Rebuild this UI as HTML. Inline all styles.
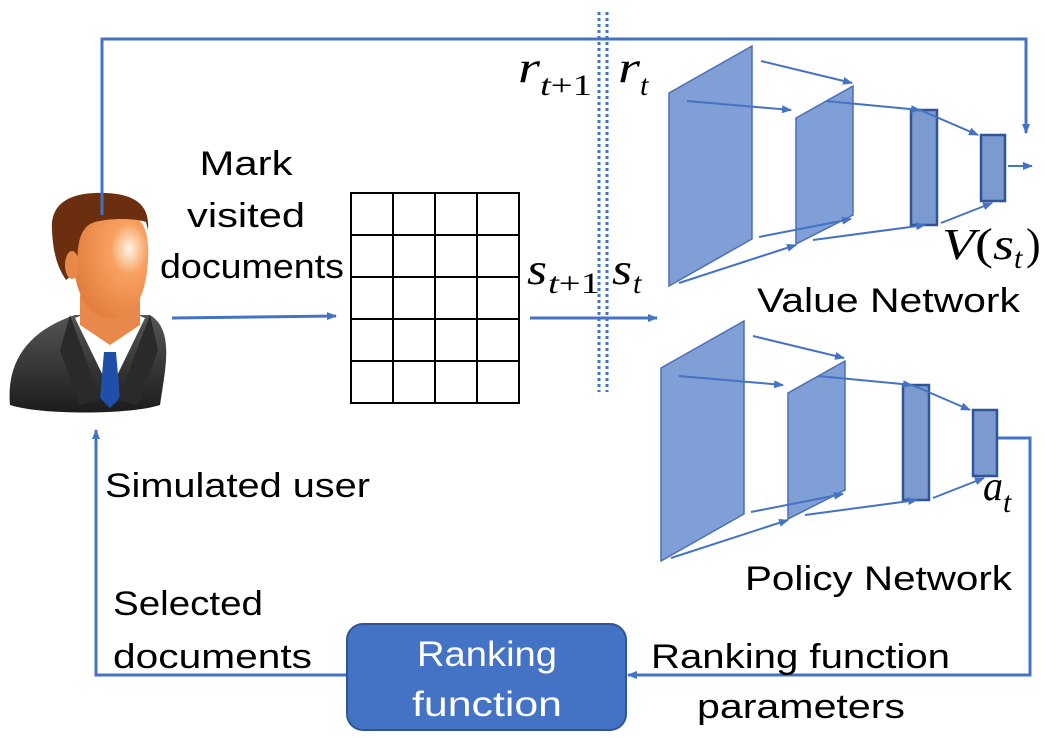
<!DOCTYPE html>
<html><head><meta charset="utf-8"><style>
html,body{margin:0;padding:0;background:#fff;}
svg{display:block;}
text{font-family:"Liberation Sans",sans-serif;fill:#000;}
.m{font-family:"Liberation Serif",serif;}
.i{font-style:italic;}
</style></head><body>
<svg width="1046" height="738" viewBox="0 0 1046 738" xmlns="http://www.w3.org/2000/svg">
<defs>
<marker id="a" markerWidth="10" markerHeight="10" refX="9" refY="5" orient="auto" markerUnits="userSpaceOnUse"><path d="M0,1 L10,5 L0,9 z" fill="#4472C4"/></marker>
<radialGradient id="face" cx="0.75" cy="0.35" r="0.8"><stop offset="0" stop-color="#fff4e8"/><stop offset="0.3" stop-color="#f8a060"/><stop offset="1" stop-color="#e07a3a"/></radialGradient>
<linearGradient id="suit" x1="0" y1="0" x2="0" y2="1"><stop offset="0" stop-color="#555"/><stop offset="1" stop-color="#1c1c1c"/></linearGradient>
</defs>

<!-- person -->
<path d="M10,405 C6,360 30,330 75,315 L150,315 C175,330 165,370 160,405 C130,415 40,415 10,405 z" fill="url(#suit)"/>
<path d="M75,318 L110,390 L145,318 L130,312 L90,312 z" fill="#fff"/>
<path d="M104,352 L116,352 L120,398 L110,408 L100,398 z" fill="#1f4fa8"/>
<path d="M70,315 L100,400 L80,405 L60,350 z" fill="#2a2a2a"/>
<path d="M150,315 L118,400 L138,405 L158,350 z" fill="#2a2a2a"/>
<path d="M80,295 L80,325 L110,345 L140,325 L140,295 z" fill="#e8884a"/>
<path d="M72,250 C70,215 95,212 115,212 C140,212 150,225 148,260 C146,300 132,318 112,318 C88,318 74,295 72,250 z" fill="url(#face)"/>
<path d="M52,230 C50,200 75,192 105,193 C135,194 150,205 148,230 L146,222 C135,218 110,218 95,222 C80,226 76,245 78,270 L66,280 C56,265 53,250 52,230 z" fill="#6b2f0f"/>
<ellipse cx="72" cy="265" rx="7" ry="14" fill="#e8884a"/>

<polyline points="102,215 102,39 1026,39 1026,133" fill="none" stroke="#4472C4" stroke-width="3" marker-end="url(#a)"/>

<line x1="599" y1="12" x2="599" y2="392" stroke="#4472C4" stroke-width="3" stroke-dasharray="3,3"/>
<line x1="607" y1="12" x2="607" y2="392" stroke="#4472C4" stroke-width="3" stroke-dasharray="3,3"/>

<line x1="172" y1="318" x2="336" y2="316" stroke="#4472C4" stroke-width="3" marker-end="url(#a)"/>
<line x1="530" y1="318" x2="657" y2="318" stroke="#4472C4" stroke-width="3" marker-end="url(#a)"/>

<g stroke="#000" stroke-width="2" fill="none">
<rect x="351" y="193" width="168" height="210"/>
<line x1="393" y1="193" x2="393" y2="403"/><line x1="435" y1="193" x2="435" y2="403"/><line x1="477" y1="193" x2="477" y2="403"/>
<line x1="351" y1="235" x2="519" y2="235"/><line x1="351" y1="277" x2="519" y2="277"/><line x1="351" y1="319" x2="519" y2="319"/><line x1="351" y1="361" x2="519" y2="361"/>
</g>

<g id="net">
<polygon points="669,93 752,46 752,239 669,286" fill="#7F9FD6" stroke="#4A6FB5" stroke-width="1.5"/>
<polygon points="796,118 853,86 853,215 796,244" fill="#7F9FD6" stroke="#4A6FB5" stroke-width="1.5"/>
<rect x="911" y="110" width="26" height="115" fill="#7A9AD0" stroke="#2F5597" stroke-width="2.5"/>
<rect x="981" y="135" width="24" height="66" fill="#7A9AD0" stroke="#2F5597" stroke-width="2.5"/>
<g stroke="#4472C4" stroke-width="2" fill="none" marker-end="url(#a)">
<line x1="761" y1="61" x2="852" y2="83"/>
<line x1="687" y1="101" x2="791" y2="110"/>
<line x1="826" y1="101" x2="920" y2="110"/>
<line x1="920" y1="110" x2="978" y2="135"/>
<line x1="759" y1="237" x2="851" y2="219"/>
<line x1="679" y1="283" x2="796" y2="245"/>
<line x1="813" y1="240" x2="925" y2="225"/>
<line x1="941" y1="223" x2="992" y2="203"/>
</g>
</g>
<line x1="1008" y1="166" x2="1032" y2="166" stroke="#4472C4" stroke-width="2" marker-end="url(#a)"/>
<use href="#net" transform="translate(-8,275)"/>

<polyline points="998,438 1030,438 1030,675 628,675" fill="none" stroke="#4472C4" stroke-width="3" marker-end="url(#a)"/>
<polyline points="346,675 96,675 96,430" fill="none" stroke="#4472C4" stroke-width="3" marker-end="url(#a)"/>

<rect x="347" y="624" width="279" height="106" rx="16" fill="#4472C4" stroke="#2F5597" stroke-width="2"/>
<text x="487" y="666" font-size="35" text-anchor="middle" style="fill:#fff" textLength="140" lengthAdjust="spacingAndGlyphs">Ranking</text>
<text x="487" y="716" font-size="35" text-anchor="middle" style="fill:#fff" textLength="150" lengthAdjust="spacingAndGlyphs">function</text>

<text x="246" y="175" font-size="34" text-anchor="middle" textLength="93" lengthAdjust="spacingAndGlyphs">Mark</text>
<text x="246" y="227" font-size="34" text-anchor="middle" textLength="118" lengthAdjust="spacingAndGlyphs">visited</text>
<text x="160" y="278" font-size="34" textLength="184" lengthAdjust="spacingAndGlyphs">documents</text>
<text x="105" y="497" font-size="34" textLength="265" lengthAdjust="spacingAndGlyphs">Simulated user</text>
<text x="113" y="615" font-size="34" textLength="150" lengthAdjust="spacingAndGlyphs">Selected</text>
<text x="113" y="668" font-size="34" textLength="199" lengthAdjust="spacingAndGlyphs">documents</text>
<text x="651" y="668" font-size="34" textLength="299" lengthAdjust="spacingAndGlyphs">Ranking function</text>
<text x="697" y="718" font-size="34" textLength="208" lengthAdjust="spacingAndGlyphs">parameters</text>
<text x="745" y="590" font-size="34" textLength="267" lengthAdjust="spacingAndGlyphs">Policy Network</text>
<text x="757" y="312" font-size="34" textLength="263" lengthAdjust="spacingAndGlyphs">Value Network</text>

<!-- math -->
<text class="m i" x="518" y="82" font-size="44" textLength="22" lengthAdjust="spacingAndGlyphs">r</text>
<text class="m" x="540" y="95" font-size="30" textLength="52" lengthAdjust="spacingAndGlyphs"><tspan class="i">t</tspan>+1</text>
<text class="m i" x="618" y="82" font-size="44" textLength="22" lengthAdjust="spacingAndGlyphs">r</text>
<text class="m i" x="640" y="95" font-size="30">t</text>

<text class="m i" x="527" y="284" font-size="44" textLength="20" lengthAdjust="spacingAndGlyphs">s</text>
<text class="m" x="548" y="293" font-size="30" textLength="52" lengthAdjust="spacingAndGlyphs"><tspan class="i">t</tspan>+1</text>
<text class="m i" x="612" y="284" font-size="44" textLength="20" lengthAdjust="spacingAndGlyphs">s</text>
<text class="m i" x="633" y="293" font-size="30">t</text>

<text class="m" x="942" y="259" font-size="44" textLength="72" lengthAdjust="spacingAndGlyphs"><tspan class="i">V</tspan>(<tspan class="i">s</tspan></text>
<text class="m i" x="1014" y="268" font-size="30">t</text>
<text class="m" x="1026" y="259" font-size="44">)</text>

<text class="m i" x="983" y="500" font-size="42" textLength="20" lengthAdjust="spacingAndGlyphs">a</text>
<text class="m i" x="1003" y="512" font-size="30">t</text>
</svg>
</body></html>
